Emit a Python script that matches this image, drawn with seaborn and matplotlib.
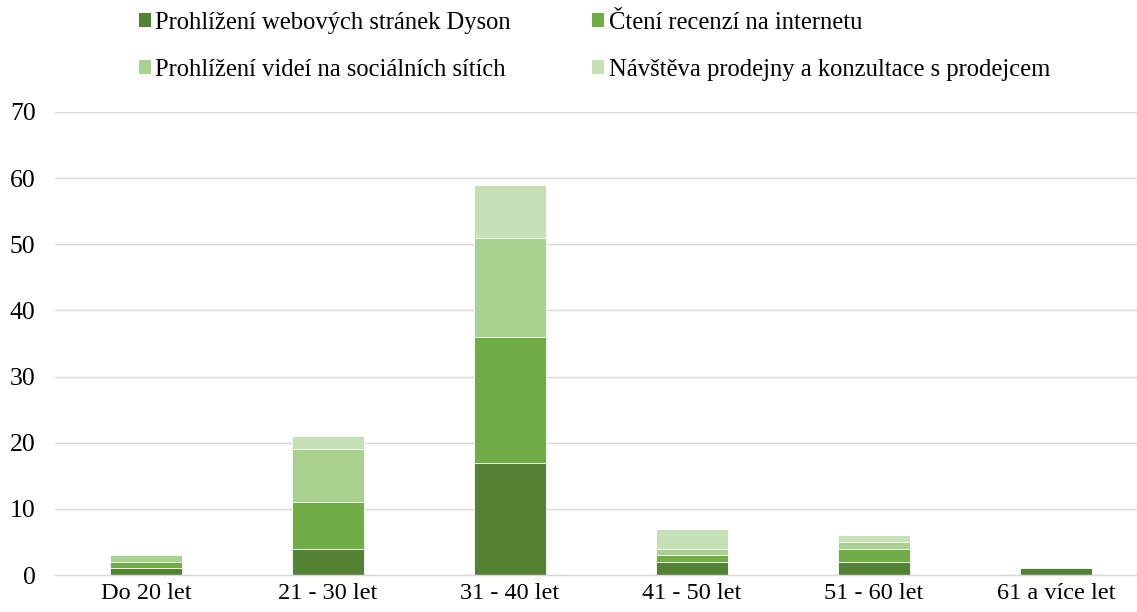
import matplotlib
matplotlib.use("Agg")
import matplotlib.pyplot as plt
import seaborn as sns
import pandas as pd
import numpy as np
from matplotlib.patches import Patch

categories = ["Do 20 let", "21 - 30 let", "31 - 40 let", "41 - 50 let", "51 - 60 let", "61 a více let"]
series_names = ["Prohlížení webových stránek Dyson", "Čtení recenzí na internetu",
                "Prohlížení videí na sociálních sítích", "Návštěva prodejny a konzultace s prodejcem"]
web = [1, 4, 17, 2, 2, 1]
recenze = [1, 7, 19, 1, 2, 0]
videa = [1, 8, 15, 1, 1, 0]
prodejna = [0, 2, 8, 3, 1, 0]
colors = ["#548235", "#70AD47", "#A9D18E", "#C5E0B4"]
yticks = [0, 10, 20, 30, 40, 50, 60, 70]

sns.set_style("white")
plt.rcParams["font.family"] = ["Liberation Serif", "DejaVu Serif"]
plt.rcParams["text.color"] = "black"

fig = plt.figure(figsize=(11.37, 6.12), dpi=100)
ax = fig.add_axes([55/1137, 1 - 575/612, (1147 - 55)/1137, (575 - 112)/612])

vals = [web, recenze, videa, prodejna]
cum = np.cumsum(np.array(vals), axis=0)
for i in range(3, -1, -1):
    df = pd.DataFrame({"cat": categories, "v": cum[i]})
    sns.barplot(data=df, x="cat", y="v", color=colors[i], width=0.4, ax=ax,
                edgecolor="white", linewidth=0.6, saturation=1)

ax.set_ylim(0, 70)
ax.set_yticks(yticks)
ax.set_xlim(-0.5, 5.5)
ax.set_xlabel("")
ax.set_ylabel("")
ax.yaxis.grid(True, color="#D9D9D9", linewidth=1)
ax.set_axisbelow(True)
for s in ["top", "right", "left"]:
    ax.spines[s].set_visible(False)
ax.spines["bottom"].set_color("#D9D9D9")
ax.spines["bottom"].set_linewidth(1)
ax.tick_params(axis="both", length=0, colors="#000000")
ax.tick_params(axis="x", labelsize=17.5, pad=6)
ax.tick_params(axis="y", labelsize=18.5, pad=14)

handles = [Patch(facecolor=c, edgecolor="none") for c in colors]
order = [0, 2, 1, 3]
fig.legend([handles[i] for i in order], [series_names[i] for i in order],
           ncol=2, loc="upper left", bbox_to_anchor=(139/1137, 1 - 12/612), frameon=False,
           fontsize=17.7, handlelength=0.47, handleheight=0.47, handletextpad=0.2,
           columnspacing=3.3, labelspacing=1.0, borderpad=0, borderaxespad=0,
           labelcolor="black")

fig.savefig("out.png", dpi=100)
